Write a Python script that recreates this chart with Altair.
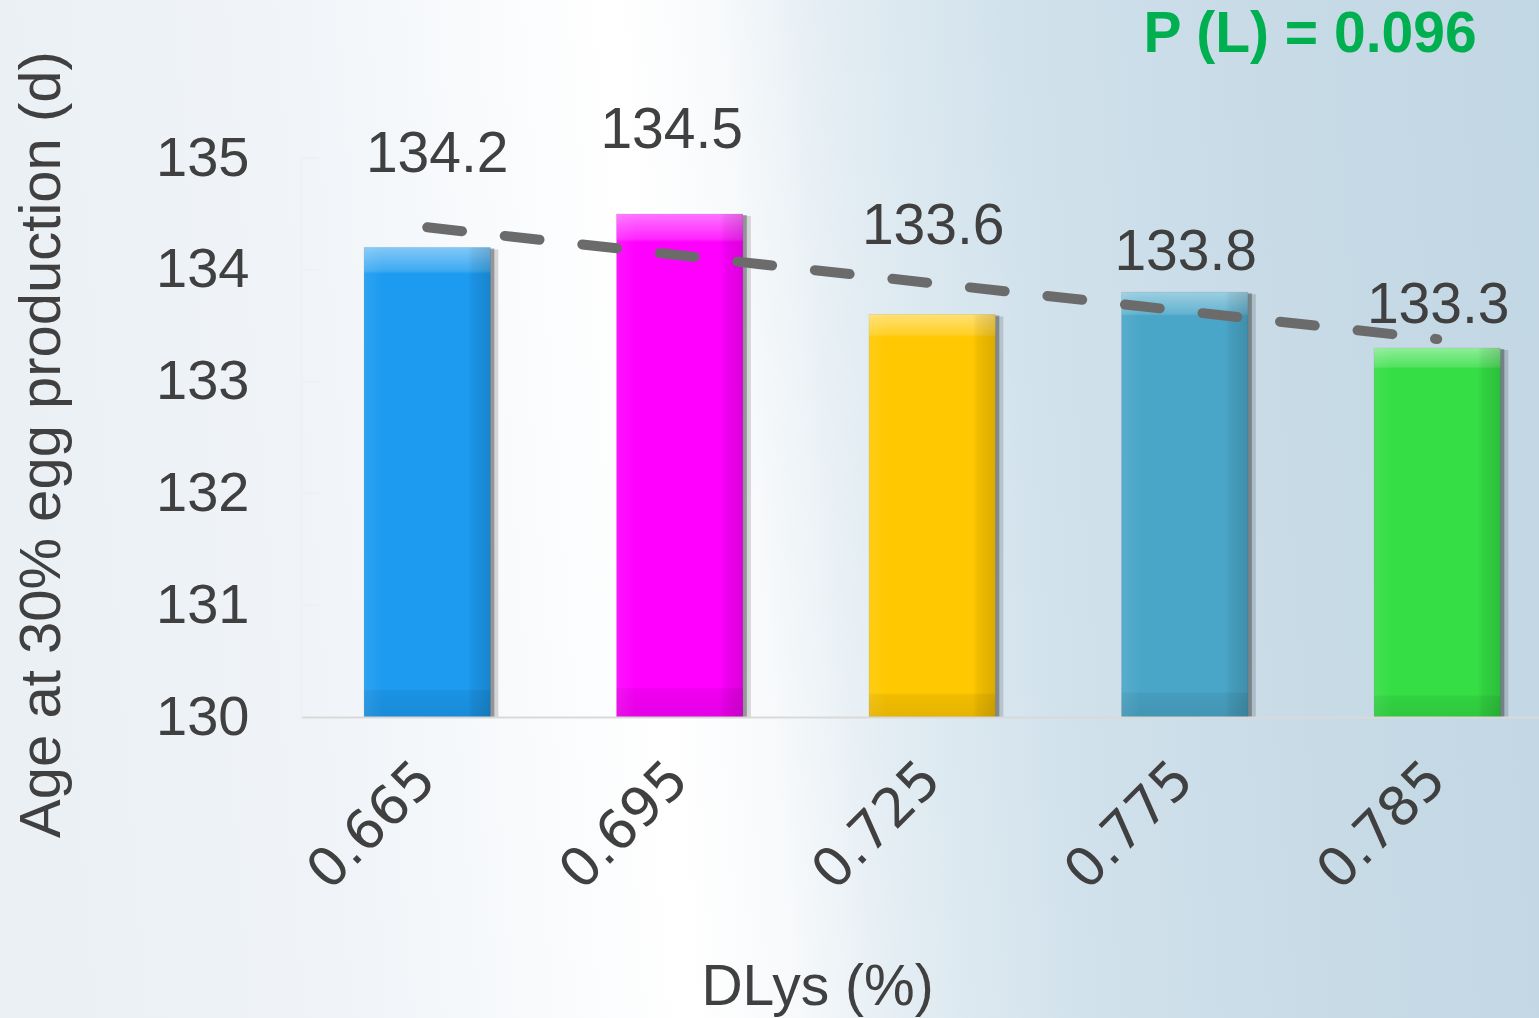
import altair as alt
import pandas as pd

# Digestible lysine level (%) and age at 30% egg production (d)
dlys = ["0.665", "0.695", "0.725", "0.775", "0.785"]
age_days = [134.2, 134.5, 133.6, 133.8, 133.3]
bar_colors = ["#1c9bf0", "#ff00ff", "#ffc800", "#4aa6c8", "#34de44"]

# value-label nudges (pixels)
label_dx = [10, -8, 1, 1, 1]
label_dy = [-75, -66, -71, -22, -25]

y_ticks = [130, 131, 132, 133, 134, 135]
p_text = "P (L) = 0.096"

W, H = 1238, 559
PAD_L, PAD_T = 301, 158

df = pd.DataFrame({
    "dlys": dlys,
    "idx": list(range(len(dlys))),
    "value": age_days,
    "dx": label_dx,
    "dy": label_dy,
})

FONT = "Liberation Sans"
TXT = "#404040"

x_scale = alt.Scale(paddingInner=0.5, paddingOuter=0.2015, align=0.62)
y_scale = alt.Scale(domain=[130, 135], zero=False, nice=False)

x_enc = alt.X(
    "dlys:N", sort=dlys, scale=x_scale,
    axis=alt.Axis(
        title="DLys (%)", labelAngle=-45, labelAlign="right", labelBaseline="middle",
        labelFont="DejaVu Sans", labelFontSize=54, labelColor=TXT, labelPadding=54,
        ticks=False, grid=False, domainColor="#d9d9d9", domainWidth=2, zindex=1,
        titleFont=FONT, titleFontSize=57, titleFontWeight="normal", titleColor=TXT,
        titleX=516, titleY=287, titleBaseline="alphabetic", titleAlign="center",
    ),
)

y_enc = alt.Y(
    "value:Q", scale=y_scale,
    axis=alt.Axis(
        title="Age at 30% egg production (d)", values=y_ticks, format="d",
        labelFont=FONT, labelFontSize=56, labelColor=TXT, labelPadding=52,
        ticks=False, grid=False, domainColor="#eef1f4", domainWidth=2, zindex=1,
        titleFont=FONT, titleFontSize=58, titleFontWeight="normal", titleColor=TXT,
        titleX=-259, titleY=286, titleAngle=-90, titleAlign="center", titleBaseline="middle",
    ),
)

# page background: pale blue with a soft white band
bg_grad = alt.Gradient(
    gradient="linear", x1=0, y1=0.05, x2=1, y2=0,
    stops=[
        alt.GradientStop(color="#ebf0f5", offset=0.0),
        alt.GradientStop(color="#f0f4f8", offset=0.18),
        alt.GradientStop(color="#f8fafc", offset=0.3),
        alt.GradientStop(color="#ffffff", offset=0.4),
        alt.GradientStop(color="#f7f9fb", offset=0.47),
        alt.GradientStop(color="#e3edf3", offset=0.54),
        alt.GradientStop(color="#d2e2ec", offset=0.65),
        alt.GradientStop(color="#c8dbe7", offset=0.8),
        alt.GradientStop(color="#c2d7e4", offset=1.0),
    ],
)
background = alt.Chart(pd.DataFrame({"k": [0]})).mark_rect(fill=bg_grad).encode(
    x=alt.value(-PAD_L), x2=alt.value(W), y=alt.value(-PAD_T), y2=alt.value(H + 301)
)

base = alt.Chart(df)

# inward tick marks on the value axis
ticks = alt.Chart(pd.DataFrame({"value": y_ticks})).mark_rule(
    color="#eef1f4", strokeWidth=2
).encode(y=y_enc, x=alt.value(0), x2=alt.value(18))

shadow_far = base.mark_bar(fill="#000000", opacity=0.14, xOffset=8, yOffset=2).encode(
    x=x_enc, y=y_enc, y2=alt.datum(130)
)
shadow_near = base.mark_bar(fill="#000000", opacity=0.3, xOffset=4, yOffset=1).encode(
    x=x_enc, y=y_enc, y2=alt.datum(130)
)

bars = base.mark_bar(stroke="#000000", strokeOpacity=0.08, strokeWidth=1).encode(
    x=x_enc, y=y_enc, y2=alt.datum(130),
    color=alt.Color("dlys:N", sort=dlys, scale=alt.Scale(domain=dlys, range=bar_colors), legend=None),
)

# bevel shading: light top edge, darker base and right side
vert_grad = alt.Gradient(
    gradient="linear", x1=0, y1=0, x2=0, y2=1,
    stops=[
        alt.GradientStop(color="rgba(255,255,255,0.45)", offset=0.0),
        alt.GradientStop(color="rgba(255,255,255,0.15)", offset=0.05),
        alt.GradientStop(color="rgba(255,255,255,0)", offset=0.056),
        alt.GradientStop(color="rgba(0,0,0,0)", offset=0.94),
        alt.GradientStop(color="rgba(0,0,0,0.06)", offset=0.945),
        alt.GradientStop(color="rgba(0,0,0,0.1)", offset=1.0),
    ],
)
horz_grad = alt.Gradient(
    gradient="linear", x1=0, y1=0, x2=1, y2=0,
    stops=[
        alt.GradientStop(color="rgba(255,255,255,0.08)", offset=0.0),
        alt.GradientStop(color="rgba(255,255,255,0)", offset=0.15),
        alt.GradientStop(color="rgba(0,0,0,0)", offset=0.82),
        alt.GradientStop(color="rgba(0,0,0,0.06)", offset=0.86),
        alt.GradientStop(color="rgba(0,0,0,0.14)", offset=1.0),
    ],
)
gloss_v = base.mark_bar(fill=vert_grad).encode(x=x_enc, y=y_enc, y2=alt.datum(130))
gloss_h = base.mark_bar(fill=horz_grad).encode(x=x_enc, y=y_enc, y2=alt.datum(130))

# linear trend across treatments
trend = base.transform_regression(
    "idx", "value", method="linear", extent=[0, len(dlys) - 1]
).transform_filter(
    "datum.idx === round(datum.idx)"
).transform_calculate(
    dlys="%s[datum.idx]" % str(dlys)
).mark_line(
    color="#6b6b6b", strokeWidth=10, strokeCap="round", strokeDash=[35, 43]
).encode(x=x_enc, y=y_enc)

value_labels = base.mark_text(
    font=FONT, fontSize=57, color=TXT, baseline="alphabetic", align="center",
    dx=alt.ExprRef("datum.dx"), dy=alt.ExprRef("datum.dy"),
).encode(
    x=x_enc, y=y_enc,
    text=alt.Text("value:Q", format=".1f"),
)

p_label = alt.Chart(pd.DataFrame({"t": [p_text]})).mark_text(
    font=FONT, fontSize=57, fontWeight="bold", color="#00b050",
    align="center", baseline="middle"
).encode(x=alt.value(1009), y=alt.value(-123), text="t:N")

chart = alt.layer(
    background, ticks, shadow_far, shadow_near, bars, gloss_v, gloss_h,
    trend, value_labels, p_label
).properties(
    width=W, height=H,
    autosize=alt.AutoSizeParams(type="none"),
    padding={"left": PAD_L, "top": PAD_T, "right": 0, "bottom": 301},
    background="#e3ecf2",
).configure_view(stroke=None)

chart.save("out.html", embed_options={"renderer": "svg", "actions": False})
